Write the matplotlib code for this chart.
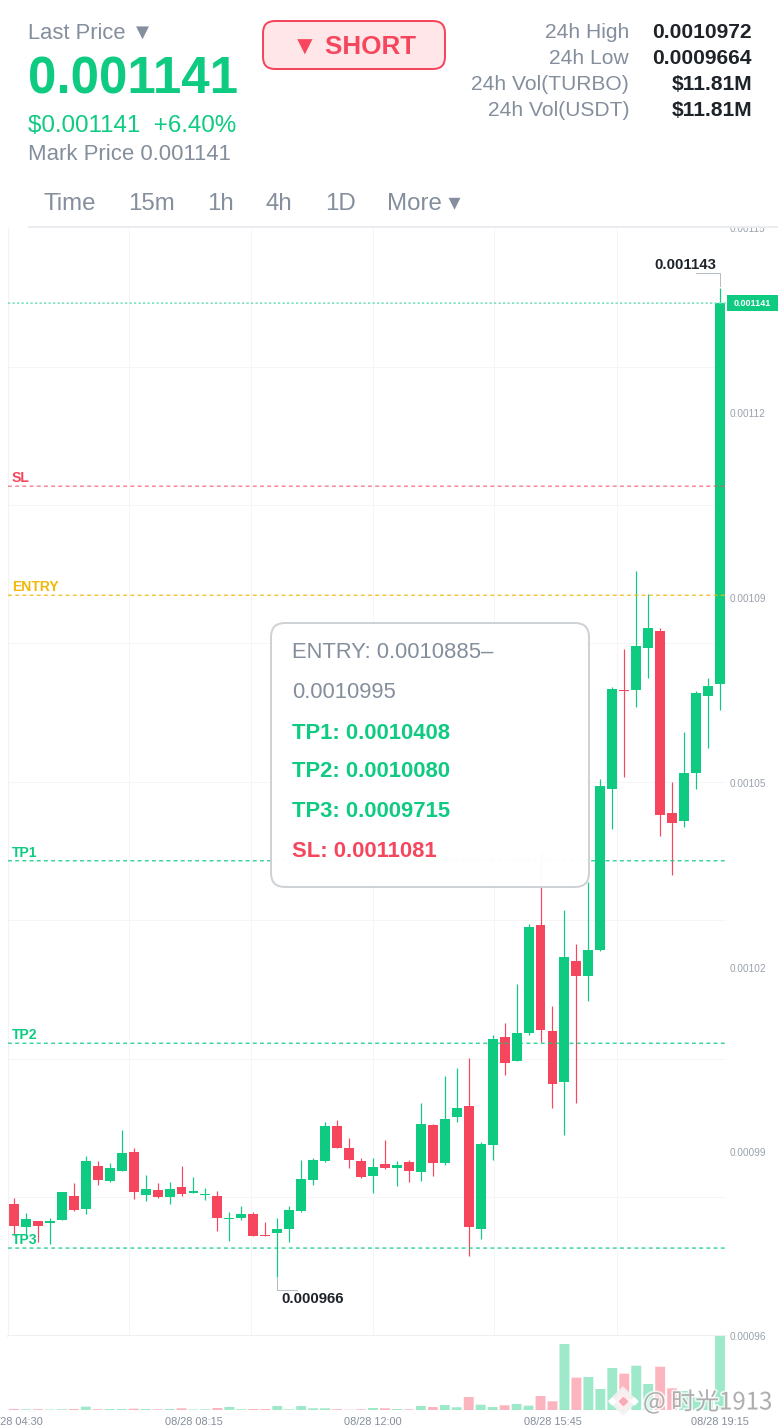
import matplotlib
matplotlib.use('Agg')
import matplotlib.pyplot as plt
from matplotlib.patches import FancyBboxPatch, Rectangle
import matplotlib.patheffects as pe

plt.rcParams['font.family'] = ['Liberation Sans', 'DejaVu Sans']

# 15m candles, prices in units of 1e-6
opens = [979.1, 975.0, 976.0, 975.7, 976.2, 980.6, 978.2, 986.0, 983.2, 985.1,
         988.4, 980.7, 981.6, 980.3, 982.2, 981.1, 980.8, 980.6, 976.4, 976.6,
         977.3, 973.6, 973.9, 974.6, 977.9, 983.5, 986.9, 993.2, 989.2, 986.8,
         984.2, 986.3, 985.6, 986.6, 984.8, 993.3, 986.4, 994.8, 996.8, 974.6,
         989.7, 1009.1, 1004.9, 1009.8, 1029.3, 1010.2, 1001.1, 1022.8, 1020.1, 1024.7,
         1053.7, 1071.5, 1071.4, 1079.1, 1082.1, 1049.4, 1047.9, 1056.6, 1070.4, 1072.5]
closes = [975.1, 976.4, 975.2, 976.0, 981.2, 978.1, 986.8, 983.4, 985.6, 988.3,
          981.2, 981.9, 980.3, 981.8, 981.0, 981.4, 981.0, 976.6, 976.6, 977.3,
          973.4, 973.3, 974.6, 978.0, 983.7, 987.0, 993.2, 989.2, 987.0, 983.9,
          985.7, 985.5, 986.1, 985.1, 993.5, 986.5, 994.4, 996.3, 975.0, 989.9,
          1008.8, 1004.5, 1009.9, 1028.9, 1010.4, 1000.6, 1023.5, 1020.1, 1024.7, 1054.3,
          1071.6, 1071.3, 1079.3, 1082.6, 1049.1, 1047.6, 1056.6, 1070.9, 1072.2, 1141.0]
highs = [980.2, 977.5, 976.0, 976.6, 981.2, 982.9, 987.8, 986.8, 986.5, 992.4,
         989.2, 984.3, 982.9, 983.0, 985.9, 984.0, 982.0, 981.4, 977.6, 978.7,
         977.7, 975.9, 976.6, 978.7, 987.0, 987.4, 993.8, 994.3, 991.0, 987.3,
         987.4, 990.6, 986.8, 987.0, 997.2, 993.5, 1002.1, 1003.5, 1005.3, 990.2,
         1009.5, 1011.6, 1018.6, 1029.5, 1042.4, 1014.7, 1032.0, 1025.8, 1037.0, 1055.4,
         1072.1, 1078.8, 1092.8, 1088.8, 1082.7, 1054.9, 1064.0, 1071.3, 1073.6, 1143.7]
lows = [973.5, 973.2, 972.3, 971.9, 976.2, 977.9, 977.3, 982.6, 983.0, 985.1,
        980.0, 979.6, 980.2, 979.2, 980.5, 981.1, 979.8, 974.2, 972.5, 976.3,
        973.4, 973.3, 966.0, 972.3, 977.7, 982.5, 986.6, 989.2, 985.5, 983.8,
        981.1, 985.4, 982.4, 983.0, 983.3, 984.2, 986.2, 993.8, 969.7, 972.8,
        987.0, 1002.3, 1004.9, 1009.5, 1008.3, 996.3, 991.5, 997.3, 1015.6, 1024.5,
        1046.5, 1055.8, 1068.5, 1073.6, 1045.2, 1038.2, 1046.9, 1053.7, 1061.0, 1067.9]
volumes = [1, 0.7, 0.8, 0.5, 0.7, 1, 3.3, 0.8, 1, 1,
           1.3, 1, 0.7, 1, 1.7, 0.5, 0.7, 2, 3, 0.8,
           1, 1, 4, 0.7, 4, 1.7, 1.7, 0.8, 0.3, 0.7,
           2, 1.7, 1, 0.7, 4, 3, 5, 2.7, 13, 5.3,
           3, 4.7, 6, 4.3, 14, 8.7, 66, 32.3, 33, 21,
           42, 36.3, 44.3, 26, 43.3, 21.7, 19, 13, 10, 74]

tick_prices = [1154.5, 1121.2, 1088.0, 1054.8, 1021.6, 988.4, 955.4]
tick_labels = ['0.00115', '0.00112', '0.00109', '0.00105', '0.00102', '0.00099', '0.00096']
grid_prices = [1129.5, 1104.7, 1079.9, 1054.9, 1030.1, 1005.1, 980.3]
grid_times = [9.63, 19.82, 30.0, 40.1, 50.35]
time_ticks = [0, 15, 30, 45, 59]
time_labels = ['08/28 04:30', '08/28 08:15', '08/28 12:00', '08/28 15:45', '08/28 19:15']

level_names = ['SL', 'ENTRY', 'TP1', 'TP2', 'TP3']
level_prices = [1108.1, 1088.5, 1040.8, 1008.0, 971.2]

GREEN = '#0ECB81'
RED = '#F6465D'
AMBER = '#F0B90B'
GRAY = '#848E9C'
DARK = '#1E2329'
level_colors = [RED, AMBER, GREEN, GREEN, GREEN]


def px(size):
    # font sizes and line widths below are read in pixels
    return size * 0.72


W, H = 780, 1428
fig = plt.figure(figsize=(W / 100, H / 100), dpi=100, facecolor='white')
ax = fig.add_axes([8 / W, (H - 1336) / H, 718 / W, 1108 / H])
vol_ax = fig.add_axes([8 / W, (H - 1410) / H, 718 / W, 74 / H])

xs = list(range(len(opens)))
colors = [GREEN if c >= o else RED for o, c in zip(opens, closes)]

# candles
ax.vlines(xs, lows, highs, colors=colors, linewidth=px(1.2), zorder=2)
bottoms = [min(o, c) for o, c in zip(opens, closes)]
heights = [max(abs(c - o), 0.2) for o, c in zip(opens, closes)]
ax.bar(xs, heights, bottom=bottoms, width=0.83, color=colors, linewidth=0, zorder=2.5)

ax.set_xlim(-0.5, 59.5)
ax.set_ylim(955.4, 1154.5)
ax.yaxis.tick_right()
ax.set_yticks(tick_prices, labels=tick_labels)
ax.set_yticks(grid_prices, minor=True)
ax.set_xticks([])
ax.set_xticks(grid_times, minor=True)
ax.grid(which='minor', color='#F5F5F6', linewidth=px(1))
ax.set_axisbelow(True)
ax.tick_params(which='both', length=0)
ax.tick_params(axis='y', which='major', labelsize=px(10), labelcolor='#9AA1AC', pad=px(4))
ax.spines[['top', 'right']].set_visible(False)
ax.spines['left'].set_color('#F3F3F4')
ax.spines['bottom'].set_color('#EFEFF1')
ax.spines['bottom'].set_linewidth(px(2))

# price levels, snapping off so thin dashes keep their colour
price_line = ax.axhline(1141.0, color='#6FE0B4', linewidth=px(1.5), dashes=(1.5, 1.5), zorder=3)
price_line.set_snap(False)
for name, price, color in zip(level_names, level_prices, level_colors):
    line_alpha = 0.65 if name == 'SL' else 0.8
    line = ax.axhline(price, color=color, linewidth=px(1.5), alpha=line_alpha,
                      dashes=(2.6, 2.2), zorder=3)
    line.set_snap(False)
    ax.annotate(name, xy=(-0.5, price), xytext=(4, 4), textcoords='offset pixels',
                color=color, fontsize=px(14), fontweight='bold', zorder=4)

# volume
vol_colors = ['#9FE9CB' if c == GREEN else '#FCB4BE' for c in colors]
vol_bars = vol_ax.bar(xs, volumes, width=0.83, color=vol_colors, linewidth=0)
for bar in vol_bars:
    bar.set_snap(False)
vol_ax.set_xlim(-0.5, 59.5)
vol_ax.set_ylim(0, 74)
vol_ax.set_yticks([])
vol_ax.set_xticks(time_ticks, labels=time_labels)
vol_ax.tick_params(axis='x', length=0, labelsize=px(11), labelcolor=GRAY, pad=px(7))
for side in vol_ax.spines.values():
    side.set_visible(False)

# everything around the chart is laid out in screen pixels
ui = fig.add_axes([0, 0, 1, 1], facecolor='none', zorder=5)
ui.set_xlim(0, W)
ui.set_ylim(H, 0)
ui.axis('off')

ui.add_patch(Rectangle((0, 0), W, 227, facecolor='white', edgecolor='none'))
ui.plot([28, 778], [227, 227], color='#EAECEF', linewidth=px(2), solid_capstyle='butt')


def label(x, y, s, size, color=GRAY, weight='normal', ha='left', **kw):
    # matplotlib centres on the text box, so nudge down to sit on the reference's centre line
    return ui.text(x, y + 0.08 * size, s, fontsize=px(size), color=color, fontweight=weight,
                   ha=ha, va='center', **kw)


label(28, 31, 'Last Price ▼', 22)
label(28, 76, '0.001141', 51, GREEN, 'bold')
label(28, 124, '$0.001141  +6.40%', 24.1, GREEN)
label(28, 153, 'Mark Price 0.001141', 22.2)

ui.add_patch(FancyBboxPatch((263, 21), 182, 48, boxstyle='round,pad=0,rounding_size=12',
                            facecolor='#FEE6E9', edgecolor=RED, linewidth=px(2)))
label(354, 45, '▼ SHORT', 26, RED, 'bold', ha='center')

stat_names = ['24h High', '24h Low', '24h Vol(TURBO)', '24h Vol(USDT)']
stat_values = ['0.0010972', '0.0009664', '$11.81M', '$11.81M']
for y, name, value in zip([31, 57, 83, 109], stat_names, stat_values):
    label(629, y, name, 21, ha='right')
    label(752, y, value, 21, DARK, 'bold', ha='right')

for x, tab in zip([44, 128, 207, 266, 325, 387], ['Time', '15m', '1h', '4h', '1D', 'More ▾']):
    label(x, 202, tab, 24)

# current price tag
ui.add_patch(Rectangle((727, 295), 51, 16, facecolor=GREEN, edgecolor='none'))
label(752.5, 303, '0.001141', 9, 'white', 'bold', ha='center')

# high / low callouts
ui.plot([696, 720, 720], [273, 273, 286], color='#B7BDC6', linewidth=px(1))
label(685, 264, '0.001143', 15, DARK, 'bold', ha='center')
ui.plot([277, 277, 297], [1278, 1290, 1290], color='#B7BDC6', linewidth=px(1))
label(281, 1298, '0.000966', 15, DARK, 'bold')

# tooltip
ui.add_patch(FancyBboxPatch((271, 623), 318, 264, boxstyle='round,pad=0,rounding_size=14',
                            facecolor='white', edgecolor='#CDD1D6', linewidth=px(2), alpha=0.97))
label(292, 651, 'ENTRY: 0.0010885–', 22)
label(292, 691, '0.0010995', 22)
label(292, 732, 'TP1: 0.0010408', 22, GREEN, 'bold')
label(292, 770, 'TP2: 0.0010080', 22, GREEN, 'bold')
label(292, 810, 'TP3: 0.0009715', 22, GREEN, 'bold')
label(292, 850, 'SL: 0.0011081', 22, RED, 'bold')

# watermark
halo = [pe.withStroke(linewidth=2.5, foreground='white', alpha=0.75)]
ui.plot([623], [1401], marker='D', markersize=12, markerfacecolor='#FFF3F4',
        markeredgecolor='#F2F2F2', markeredgewidth=3, alpha=0.9)
ui.plot([623], [1401], marker='D', markersize=4.5, color='#F6A0AC', alpha=0.8)
ui.plot([612, 634], [1401, 1401], linestyle='none', marker='D', markersize=3.5, color='white')
ui.text(643, 1402, '@ 时光1913', fontsize=px(24), color='#9A9A9A', alpha=0.75, va='center',
        family=['Noto Sans CJK SC', 'DejaVu Sans'], path_effects=halo)

fig.savefig('out.png', dpi=100)
